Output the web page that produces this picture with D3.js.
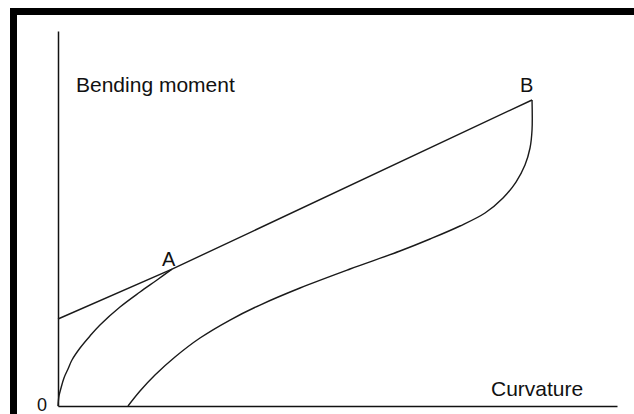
<!DOCTYPE html>
<html>
<head>
<meta charset="utf-8">
<script src="https://cdn.jsdelivr.net/npm/d3@7"></script>
<style>
	body { margin: 0; background: #fff; }
	svg { display: block; }
	text { font-family: "Liberation Sans", Arial, sans-serif; fill: #111; }
</style>
</head>
<body>
<script>

// curvature (x) / bending moment (y), both 0-100 of the axis length
var loadX = [0, 0.18, 0.54, 1.07, 1.79, 2.5, 3.94, 5.72, 7.51, 11.09, 14.67, 17.71, 20.4];
var loadY = [0, 2.67, 4.8, 7.47, 9.87, 12.27, 15.47, 18.67, 21.6, 26.4, 30.4, 33.6, 36.5];

var lineX = [0, 20.4, 84.8];
var lineY = [23.2, 36.5, 81.6];

var unloadX = [84.8, 84.8, 84.44, 83.54, 81.93, 79.61, 76.39, 71.91, 66.55, 61.18, 52.24, 43.29, 36.14, 30.77, 25.4, 20.93, 17.35, 14.67, 12.52];
var unloadY = [81.6, 73.6, 68.8, 64.27, 59.73, 55.47, 51.47, 48.0, 44.53, 41.33, 36.53, 31.47, 26.93, 22.93, 18.13, 13.07, 8.27, 4.0, 0];

var pointLabels = ["A", "B"];
var pointX = [20.4, 84.8];
var pointY = [36.5, 81.6];

var w = 634;
var h = 414;

var svg = d3.select("body")
	.append("svg")
	.attr("width", w)
	.attr("height", h);

var x = d3.scaleLinear().domain([0, 100]).range([58, 617]);
var y = d3.scaleLinear().domain([0, 100]).range([406, 31]);

// thick frame, cut off at right and bottom like the scan
svg.append("rect")
	.attr("x", 13.5)
	.attr("y", 11.5)
	.attr("width", w + 20)
	.attr("height", h + 20)
	.attr("fill", "none")
	.attr("stroke", "#000")
	.attr("stroke-width", 7);

// axes, no ticks
svg.append("g")
	.attr("transform", "translate(0," + y(0) + ")")
	.call(d3.axisBottom(x).ticks(0).tickSizeOuter(0))
	.select(".domain").attr("stroke", "#111").attr("stroke-width", 1.5);

svg.append("g")
	.attr("transform", "translate(" + x(0) + ",0)")
	.call(d3.axisLeft(y).ticks(0).tickSizeOuter(0))
	.select(".domain").attr("stroke", "#111").attr("stroke-width", 1.5);

var curve = d3.line()
	.x(function(d) { return x(d[0]); })
	.y(function(d) { return y(d[1]); })
	.curve(d3.curveCatmullRom.alpha(0.5));

var straight = d3.line()
	.x(function(d) { return x(d[0]); })
	.y(function(d) { return y(d[1]); });

var paths = [
	[d3.zip(loadX, loadY), curve],
	[d3.zip(lineX, lineY), straight],
	[d3.zip(unloadX, unloadY), curve]
];

paths.forEach(function(p) {
	svg.append("path")
		.attr("d", p[1](p[0]))
		.attr("fill", "none")
		.attr("stroke", "#1a1a1a")
		.attr("stroke-width", 1.4)
		.attr("stroke-linejoin", "round");
});

svg.selectAll(".pt")
	.data(pointLabels)
	.enter()
	.append("text")
	.attr("class", "pt")
	.attr("x", function(d, i) { return x(pointX[i]) - (i == 0 ? 10 : 12); })
	.attr("y", function(d, i) { return y(pointY[i]) - (i == 0 ? 3 : 8); })
	.attr("font-size", "20px")
	.text(function(d) { return d; });

svg.append("text")
	.attr("x", 76)
	.attr("y", 92)
	.attr("font-size", "21px")
	.text("Bending moment");

svg.append("text")
	.attr("x", 491)
	.attr("y", 396)
	.attr("font-size", "21px")
	.text("Curvature");

svg.append("text")
	.attr("x", 37)
	.attr("y", 411)
	.attr("font-size", "18px")
	.text("0");

</script>
</body>
</html>
